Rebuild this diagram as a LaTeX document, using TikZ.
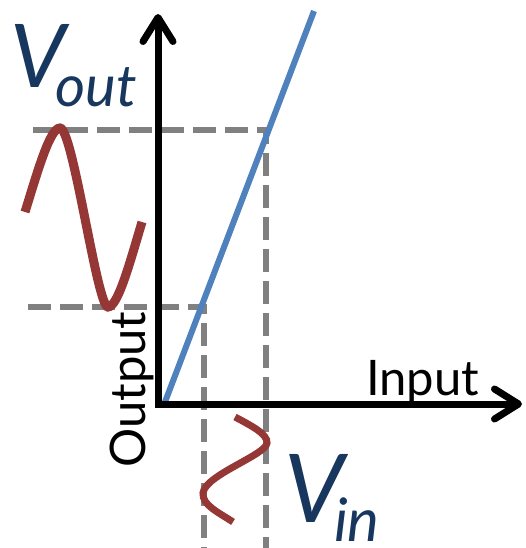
\documentclass[tikz,border=0pt]{standalone}
\usepackage{fontspec}
\setmainfont{Lato}
\usetikzlibrary{arrows.meta}
\definecolor{vblue}{HTML}{17375E}
\definecolor{sigred}{HTML}{953735}
\definecolor{lineblue}{HTML}{4F81BD}
\definecolor{guidegray}{HTML}{808080}

\begin{document}
\begin{tikzpicture}[x=1pt,y=-1pt,
  axis/.style={line width=7pt,{Straight Barb[length=24pt,width=30pt,round]}-{Straight Barb[length=24pt,width=30pt,round]}},
  guide/.style={draw=guidegray,line width=6pt,dash pattern=on 23pt off 9pt},
  wave/.style={draw=sigred,line cap=butt},
  lbl/.style={inner sep=0pt,anchor=base west}]
  \useasboundingbox (0,0) rectangle (525,548);
  % axes and transfer line
  \coordinate (ytip) at (158,14);
  \coordinate (o) at (158,404);
  \coordinate (xtip) at (522,404);
  \coordinate (lo) at (165,402);
  \coordinate (hi) at (314,11);
  % guide lines
  \coordinate (kneehi) at (266,130);
  \coordinate (kneelo) at (204,307);
  \draw[guide] (33,130) -- (kneehi) -- (266,548);
  \draw[guide] (28,307) -- (kneelo) -- (204,548);
  \draw[line width=6pt,lineblue] (lo) -- (hi);
  \draw[axis] (ytip) -- (o) -- (xtip);
  % output wave
  \draw[wave,line width=9pt] (25,212) .. controls (38,170) and (50,128) .. (60,128)
    .. controls (73,128) and (97,307) .. (108,307)
    .. controls (118,307) and (130,262) .. (142,222);
  % input wave
  \draw[wave,line width=7pt] (235,417) .. controls (250,425) and (268,434) .. (267,443)
    .. controls (266,455) and (205,475) .. (203,493)
    .. controls (202,505) and (218,512) .. (233,522);
  % labels
  \node[lbl,text=vblue] (vout) at (10,88) {\fontsize{88}{88}\selectfont\itshape V\kern-10pt\raisebox{-19pt}{\fontsize{58}{58}\selectfont out}};
  \node[lbl,text=vblue] (vin) at (284,522) {\fontsize{95}{95}\selectfont\itshape V\kern-10pt\raisebox{-19pt}{\fontsize{60}{60}\selectfont in}};
  \node[lbl] (input) at (366,395) {\fontsize{49}{49}\selectfont Input};
  \node[lbl,rotate=90] (output) at (145,468) {\fontsize{49}{49}\selectfont Output};
\end{tikzpicture}
\end{document}
